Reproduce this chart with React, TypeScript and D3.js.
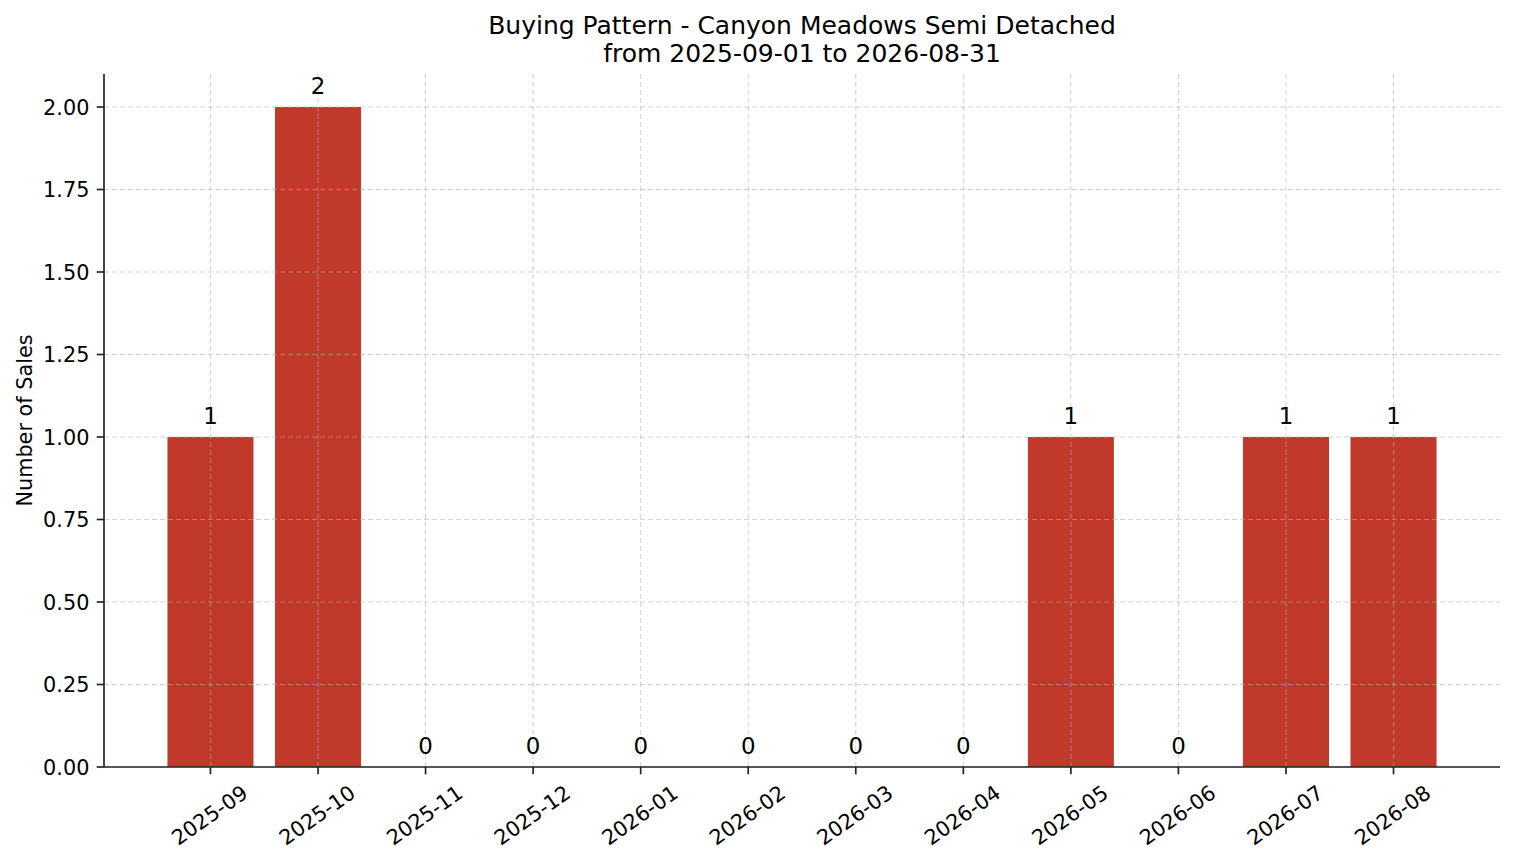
import React from "react";
import * as d3 from "d3";

const months = [
  "2025-09", "2025-10", "2025-11", "2025-12", "2026-01", "2026-02",
  "2026-03", "2026-04", "2026-05", "2026-06", "2026-07", "2026-08",
];
const sales = [1, 2, 0, 0, 0, 0, 0, 0, 1, 0, 1, 1];
const yTicks = [0, 0.25, 0.5, 0.75, 1, 1.25, 1.5, 1.75, 2];
const titleLines = [
  "Buying Pattern - Canyon Meadows Semi Detached",
  "from 2025-09-01 to 2026-08-31",
];

const W = 1514;
const H = 863;
const margin = { top: 74, right: 14, bottom: 96, left: 104 };
const font = "'DejaVu Sans', sans-serif";

const App: React.FC = () => {
  const plotW = W - margin.left - margin.right;
  const plotH = H - margin.top - margin.bottom;

  const x = d3.scaleLinear().domain([-0.99, months.length - 1 + 0.99]).range([0, plotW]);
  const y = d3.scaleLinear().domain([0, 2.1]).range([plotH, 0]);
  const barW = x(0.8) - x(0);
  const fmt = d3.format(".2f");
  const tickLen = 7.3;
  const pad = 7.3;

  return (
    <svg
      width={W}
      height={H}
      style={{ position: "absolute", left: 0, top: 0, background: "#fff" }}
      fontFamily={font}
    >
      <g textAnchor="middle" fontSize={25} fill="#000">
        {titleLines.map((t, i) => (
          <text key={i} x={margin.left + plotW / 2} y={34 + i * 28}>
            {t}
          </text>
        ))}
      </g>

      <g transform={`translate(${margin.left},${margin.top})`}>
        {/* bars */}
        {sales.map((v, i) => (
          <rect
            key={months[i]}
            x={x(i) - barW / 2}
            y={y(v)}
            width={barW}
            height={plotH - y(v)}
            fill="#c0392b"
          />
        ))}

        {/* grid on top of bars */}
        <g stroke="#b0b0b0" strokeOpacity={0.55} strokeWidth={1.1} strokeDasharray="5,3">
          {yTicks.map((t) => (
            <line key={"gy" + t} x1={0} x2={plotW} y1={y(t)} y2={y(t)} />
          ))}
          {months.map((m, i) => (
            <line key={"gx" + m} x1={x(i)} x2={x(i)} y1={0} y2={plotH} />
          ))}
        </g>

        {/* value labels */}
        <g textAnchor="middle" fontSize={22.9} fill="#000">
          {sales.map((v, i) => (
            <text key={"l" + i} x={x(i)} y={y(v) - 13}>
              {v}
            </text>
          ))}
        </g>

        {/* spines */}
        <line x1={0} x2={0} y1={0} y2={plotH} stroke="#222" strokeWidth={1.67} />
        <line x1={0} x2={plotW} y1={plotH} y2={plotH} stroke="#222" strokeWidth={1.67} />

        {/* y axis */}
        {yTicks.map((t) => (
          <g key={"yt" + t} transform={`translate(0,${y(t)})`}>
            <line x1={-tickLen} x2={0} stroke="#222" strokeWidth={1.67} />
            <text x={-tickLen - pad} dy="0.36em" textAnchor="end" fontSize={20.8} fill="#000">
              {fmt(t)}
            </text>
          </g>
        ))}

        {/* x axis */}
        {months.map((m, i) => (
          <g key={"xt" + m}>
            <line
              x1={x(i)}
              x2={x(i)}
              y1={plotH}
              y2={plotH + tickLen}
              stroke="#222"
              strokeWidth={1.67}
            />
            <text
              transform={`translate(${x(i) - 1},${plotH + 48}) rotate(-35)`}
              textAnchor="middle"
              dy="0.36em"
              fontSize={20.8}
              fill="#000"
            >
              {m}
            </text>
          </g>
        ))}

        <text
          transform={`translate(${31.5 - margin.left},${plotH / 2}) rotate(-90)`}
          textAnchor="middle"
          fontSize={20.8}
          fill="#000"
        >
          Number of Sales
        </text>
      </g>
    </svg>
  );
};

export default App;
